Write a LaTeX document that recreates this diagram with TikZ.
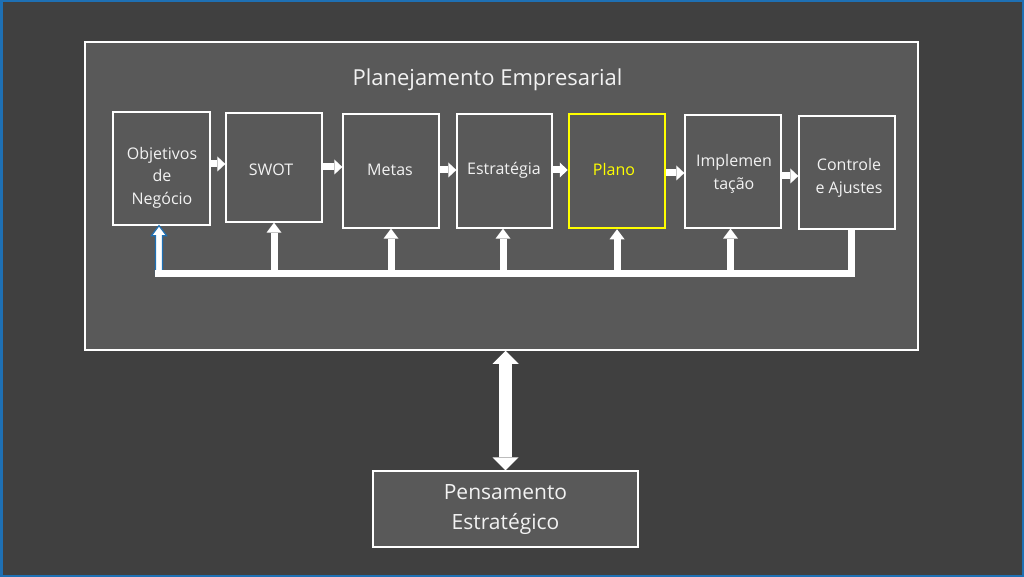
\documentclass[tikz,border=0pt]{standalone}
\usepackage{fontspec}
\setmainfont{Open Sans}
\usetikzlibrary{arrows.meta,calc}
\definecolor{bgc}{RGB}{64,64,64}
\definecolor{panel}{RGB}{89,89,89}
\definecolor{frameblue}{RGB}{30,112,180}
\definecolor{hiyellow}{RGB}{255,255,0}
\definecolor{txt}{RGB}{242,242,242}
\begin{document}
\begin{tikzpicture}[x=1pt,y=-1pt,
  box/.style={draw=white,line width=1.3pt,fill=panel,inner sep=0pt},
  lbl/.style={text=txt,align=center,font=\fontsize{16}{22.5}\selectfont,inner sep=0pt},
  flow/.style={draw=white,line width=7pt,-{Triangle[width=15pt,length=8pt,line width=0pt]}},
  feed/.style={draw=white,line width=7pt,-{Triangle[width=15pt,length=10pt,line width=0pt]}},
  bus/.style={draw=white,line width=7pt,line join=miter},
  dbl/.style={draw=white,line width=13pt,{Triangle[width=26pt,length=13pt,line width=0pt]}-{Triangle[width=26pt,length=13pt,line width=0pt]}}]
\useasboundingbox (0,0) rectangle (1024,577);
\draw[frameblue,line width=2.5pt,fill=bgc] (1.25,1.25) rectangle (1022.75,575.75);

% outer panel
\node[box,line width=1.5pt,minimum width=833pt,minimum height=308pt] (outer) at (501.5,196) {};
\node[lbl,font=\fontsize{22}{25}\selectfont] (title) at (487.5,80) {Planejamento Empresarial};

% step boxes
\node[box,minimum width=97pt,minimum height=113pt] (obj) at (161.5,168.5) {};
\node[box,minimum width=96pt,minimum height=109pt] (swot) at (274,167.5) {};
\node[box,minimum width=96pt,minimum height=114pt] (metas) at (391,171) {};
\node[box,minimum width=95pt,minimum height=114pt] (estr) at (504.5,171) {};
\node[box,draw=hiyellow,line width=2.5pt,minimum width=96pt,minimum height=114pt] (plano) at (617,171) {};
\node[box,minimum width=96pt,minimum height=113pt] (impl) at (733,171.5) {};
\node[box,minimum width=96pt,minimum height=113pt] (ctrl) at (847,172.5) {};

% labels
\node[lbl] (objT) at (162,177.5) {Objetivos\\de\\Negócio};
\node[lbl] (swotT) at (271,170) {SWOT};
\node[lbl] (metasT) at (390,170) {Metas};
\node[lbl] (estrT) at (504,170) {Estratégia};
\node[lbl,text=hiyellow] (planoT) at (614,170) {Plano};
\node[lbl] (implT) at (734,174) {Implemen\\tação};
\node[lbl] (ctrlT) at (849,178) {Controle\\e Ajustes};

% flow arrows
\draw[flow] (obj.east |- 0,164) -- (swot.west |- 0,164);
\draw[flow] (swot.east |- 0,167) -- (metas.west |- 0,167);
\draw[flow] (metas.east |- 0,170) -- (estr.west |- 0,170);
\draw[flow] (estr.east |- 0,170) -- (plano.west |- 0,170);
\draw[flow] (plano.east |- 0,173) -- (impl.west |- 0,173);
\draw[flow] (impl.east |- 0,176) -- (ctrl.west |- 0,176);

% feedback to Objetivos (blue outlined)
\coordinate (ot) at ($(obj.south)+(-2.5,0)$);
\filldraw[fill=white,draw=frameblue,line width=1.2pt] (ot) -- ++(7.5,10) -- ++(-4,0) -- ++(0,38.5) -- ++(-7,0) -- ++(0,-38.5) -- ++(-4,0) -- cycle;

% bus
\coordinate (busL) at (155,273.5);
\coordinate (ctrlF) at ($(ctrl.south)+(4,0)$);
\draw[bus] (ctrlF) |- (busL);

% feedback arrows
\coordinate (estrF) at ($(estr.south)+(-1.5,0)$);
\coordinate (implF) at ($(impl.south)+(-2.5,0)$);
\draw[feed] (swot.south |- busL) -- (swot.south);
\draw[feed] (metas.south |- busL) -- (metas.south);
\draw[feed] (estrF |- busL) -- (estrF);
\draw[feed] (plano.south |- busL) -- (plano.south);
\draw[feed] (implF |- busL) -- (implF);

% bottom box
\node[box,minimum width=265pt,minimum height=76pt] (pens) at (505.5,509) {};
\node[lbl,font=\fontsize{21}{30}\selectfont] (pensT) at (505.5,510) {Pensamento\\Estratégico};

% double arrow
\coordinate (dx) at (505.5,0);
\draw[dbl] (outer.south -| dx) -- (pens.north -| dx);
\end{tikzpicture}
\end{document}
